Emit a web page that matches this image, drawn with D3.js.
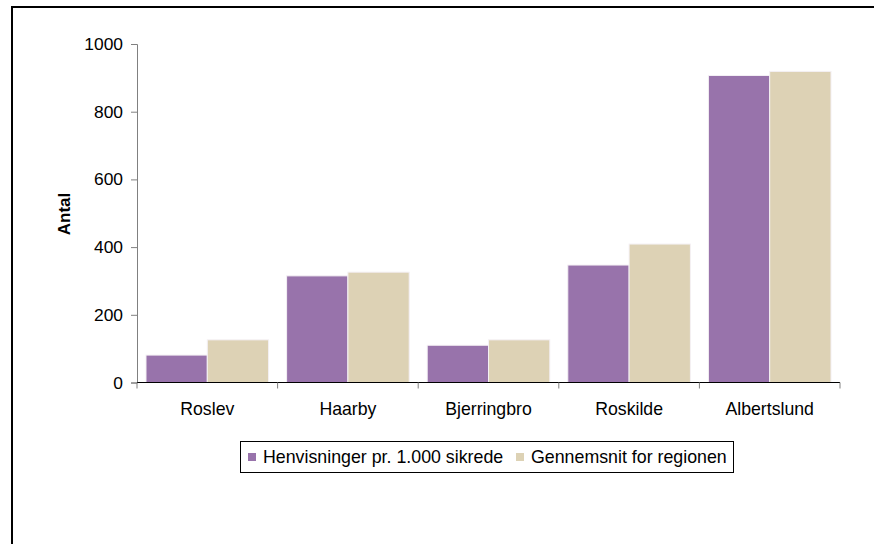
<!DOCTYPE html>
<html>
<head>
<meta charset="utf-8">
<script src="https://cdn.jsdelivr.net/npm/d3@7"></script>
<style>
  body { margin: 0; background: #fff; }
  text { font-family: "Liberation Sans", Arial, sans-serif; }
</style>
</head>
<body>
<script>
// municipalities on the x axis
const categories = ["Roslev", "Haarby", "Bjerringbro", "Roskilde", "Albertslund"];
// series names as in the legend
const seriesNames = ["Henvisninger pr. 1.000 sikrede", "Gennemsnit for regionen"];
// values
const henvisninger = [81, 315, 110, 347, 907];
const gennemsnit = [126, 326, 126, 409, 919];
const yTicks = [0, 200, 400, 600, 800, 1000];

const colors = ["#9873ab", "#ddd2b5"];

const width = 874;
const height = 544;

const svg = d3.select("body")
    .append("svg")
    .attr("width", width)
    .attr("height", height);

// outer frame (only the top and left show inside the window)
svg.append("rect")
    .attr("x", 12)
    .attr("y", 7)
    .attr("width", 900)
    .attr("height", 600)
    .attr("fill", "none")
    .attr("stroke", "#000")
    .attr("stroke-width", 2);

const plotLeft = 137, plotRight = 840, plotTop = 44, plotBottom = 382.5;

const x = d3.scaleBand()
    .domain(categories)
    .range([plotLeft, plotRight]);

const x1 = d3.scaleBand()
    .domain([0, 1])
    .range([9, x.bandwidth() - 9]);

const y = d3.scaleLinear()
    .domain([0, 1000])
    .range([plotBottom, plotTop]);

const rows = categories.map((c, i) => ({ cat: c, vals: [henvisninger[i], gennemsnit[i]] }));

// bars
const groups = svg.selectAll("g.cat")
    .data(rows)
    .enter()
    .append("g")
    .attr("class", "cat")
    .attr("transform", d => `translate(${x(d.cat)},0)`);

groups.selectAll("rect")
    .data(d => d.vals.map((v, s) => ({ v, s })))
    .enter()
    .append("rect")
    .attr("x", d => x1(d.s))
    .attr("y", d => y(d.v))
    .attr("width", x1.bandwidth())
    .attr("height", d => plotBottom - y(d.v))
    .attr("fill", d => colors[d.s])
    .attr("stroke", "#f4f0f4")
    .attr("stroke-width", 1);

// y axis
const yAxis = svg.append("g")
    .attr("transform", `translate(${plotLeft},0)`)
    .call(d3.axisLeft(y).tickValues(yTicks).tickFormat(d3.format("d")).tickSize(6).tickPadding(8));
yAxis.select(".domain").attr("stroke", "#808080");
yAxis.selectAll(".tick line").attr("stroke", "#808080");
yAxis.selectAll("text")
    .attr("font-size", 17.4)
    .attr("fill", "#000")
    .style("font-family", "'Liberation Sans', Arial, sans-serif");

// x axis with ticks between categories
const xAxis = svg.append("g")
    .attr("transform", `translate(0,${plotBottom})`);
xAxis.append("line")
    .attr("x1", plotLeft).attr("x2", plotRight)
    .attr("y1", 0).attr("y2", 0)
    .attr("stroke", "#000");
const bounds = categories.map(c => x(c)).concat([plotRight]);
xAxis.selectAll("line.tk")
    .data(bounds)
    .enter()
    .append("line")
    .attr("class", "tk")
    .attr("x1", d => d).attr("x2", d => d)
    .attr("y1", 0).attr("y2", 6)
    .attr("stroke", "#808080");
xAxis.selectAll("text")
    .data(categories)
    .enter()
    .append("text")
    .attr("x", d => x(d) + x.bandwidth() / 2)
    .attr("y", 32)
    .attr("text-anchor", "middle")
    .attr("font-size", 17.7)
    .text(d => d);

// y axis title
svg.append("text")
    .attr("transform", "translate(70,214) rotate(-90)")
    .attr("text-anchor", "middle")
    .attr("font-size", 17)
    .attr("font-weight", "bold")
    .text("Antal");

// legend
const legend = svg.append("g");
legend.append("rect")
    .attr("x", 240.5).attr("y", 441.5)
    .attr("width", 493).attr("height", 31)
    .attr("fill", "#fff")
    .attr("stroke", "#000");
const legendX = [248, 516];
seriesNames.forEach((name, i) => {
    legend.append("rect")
        .attr("x", legendX[i]).attr("y", 453)
        .attr("width", 8).attr("height", 8)
        .attr("fill", colors[i]);
    legend.append("text")
        .attr("x", legendX[i] + 15).attr("y", 463)
        .attr("font-size", 17.8)
        .text(name);
});
</script>
</body>
</html>
